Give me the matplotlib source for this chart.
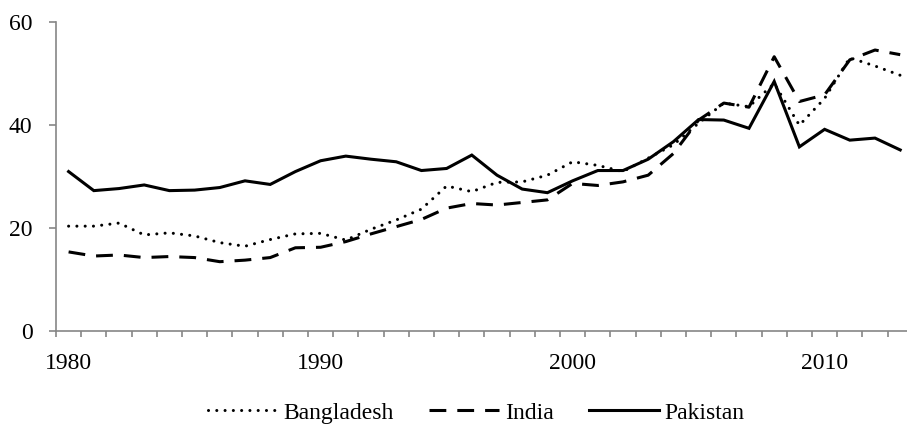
import numpy as np
import matplotlib
matplotlib.use('Agg')
import matplotlib.pyplot as plt

plt.rcParams['font.family'] = ['Liberation Serif', 'DejaVu Serif']
plt.rcParams['font.size'] = 17

# data
years = list(range(1980, 2014))
bangladesh = [20.3, 20.3, 20.9, 18.6, 19.0, 18.4, 17.1, 16.4, 17.7, 18.8,
              18.9, 17.6, 19.7, 21.5, 23.6, 28.1, 27.0, 28.8, 28.9, 30.2,
              32.8, 32.1, 30.9, 33.5, 36.1, 40.3, 44.2, 43.5, 48.0, 39.9,
              45.1, 53.0, 51.4, 49.6]
india = [15.3, 14.5, 14.7, 14.2, 14.4, 14.2, 13.4, 13.7, 14.2, 16.1,
         16.2, 17.3, 18.8, 20.2, 21.6, 23.8, 24.7, 24.4, 24.9, 25.4,
         28.6, 28.2, 28.9, 30.2, 34.4, 40.9, 44.2, 43.4, 53.2, 44.5,
         45.8, 52.6, 54.5, 53.6]
pakistan = [30.9, 27.2, 27.6, 28.3, 27.2, 27.3, 27.8, 29.1, 28.4, 30.9,
            33.0, 33.9, 33.3, 32.8, 31.1, 31.5, 34.1, 30.2, 27.5, 26.8,
            29.1, 31.1, 31.1, 33.3, 36.7, 41.0, 40.9, 39.3, 48.4, 35.7,
            39.1, 37.0, 37.4, 35.1]
labels = ['Bangladesh', 'India', 'Pakistan']
label_years = [1980, 1990, 2000, 2010]
y_ticks = [0, 20, 40, 60]

fig = plt.figure(figsize=(9.07, 4.30), dpi=100)
# axis is cut off at the right edge like in the source image
ax = fig.add_axes([56 / 907, 1 - 330.7 / 430, 856.8 / 907, 309 / 430])

lw = 2.2
ax.plot(years, bangladesh, color='black', lw=lw, linestyle=(0, (0.01, 2.7)),
        dash_capstyle='round', label=labels[0])
ax.plot(years, india, color='black', lw=lw, linestyle=(0, (5.5, 3.6)),
        dash_capstyle='butt', label=labels[1])
ax.plot(years, pakistan, color='black', lw=lw, solid_joinstyle='miter',
        label=labels[2])

ax.set_xlim(years[0] - 0.5, years[-1] + 0.5)
ax.set_ylim(0, 60)

grey = '#868686'
for s in ['top', 'right']:
    ax.spines[s].set_visible(False)
for s in ['left', 'bottom']:
    ax.spines[s].set_color(grey)
    ax.spines[s].set_linewidth(1.2)

# tick marks between categories, labels at the year centres
ax.set_xticks(np.arange(years[0] - 0.5, years[-1] + 1, 1.0))
ax.set_xticklabels([])
ax.tick_params(axis='x', which='major', direction='out', length=4,
               width=1.2, color=grey)
ax.set_xticks(label_years, minor=True)
ax.set_xticklabels([str(y) for y in label_years], minor=True)
ax.tick_params(axis='x', which='minor', length=0, pad=16)

ax.set_yticks(y_ticks)
ax.tick_params(axis='y', direction='out', length=5, width=1.2, color=grey,
               pad=12)

fig.legend(loc='center', bbox_to_anchor=(0.525, 0.04), ncol=3, frameon=False,
           handlelength=2.95, handletextpad=0.25, columnspacing=1.5,
           borderpad=0)

fig.savefig('out.png', dpi=100)
